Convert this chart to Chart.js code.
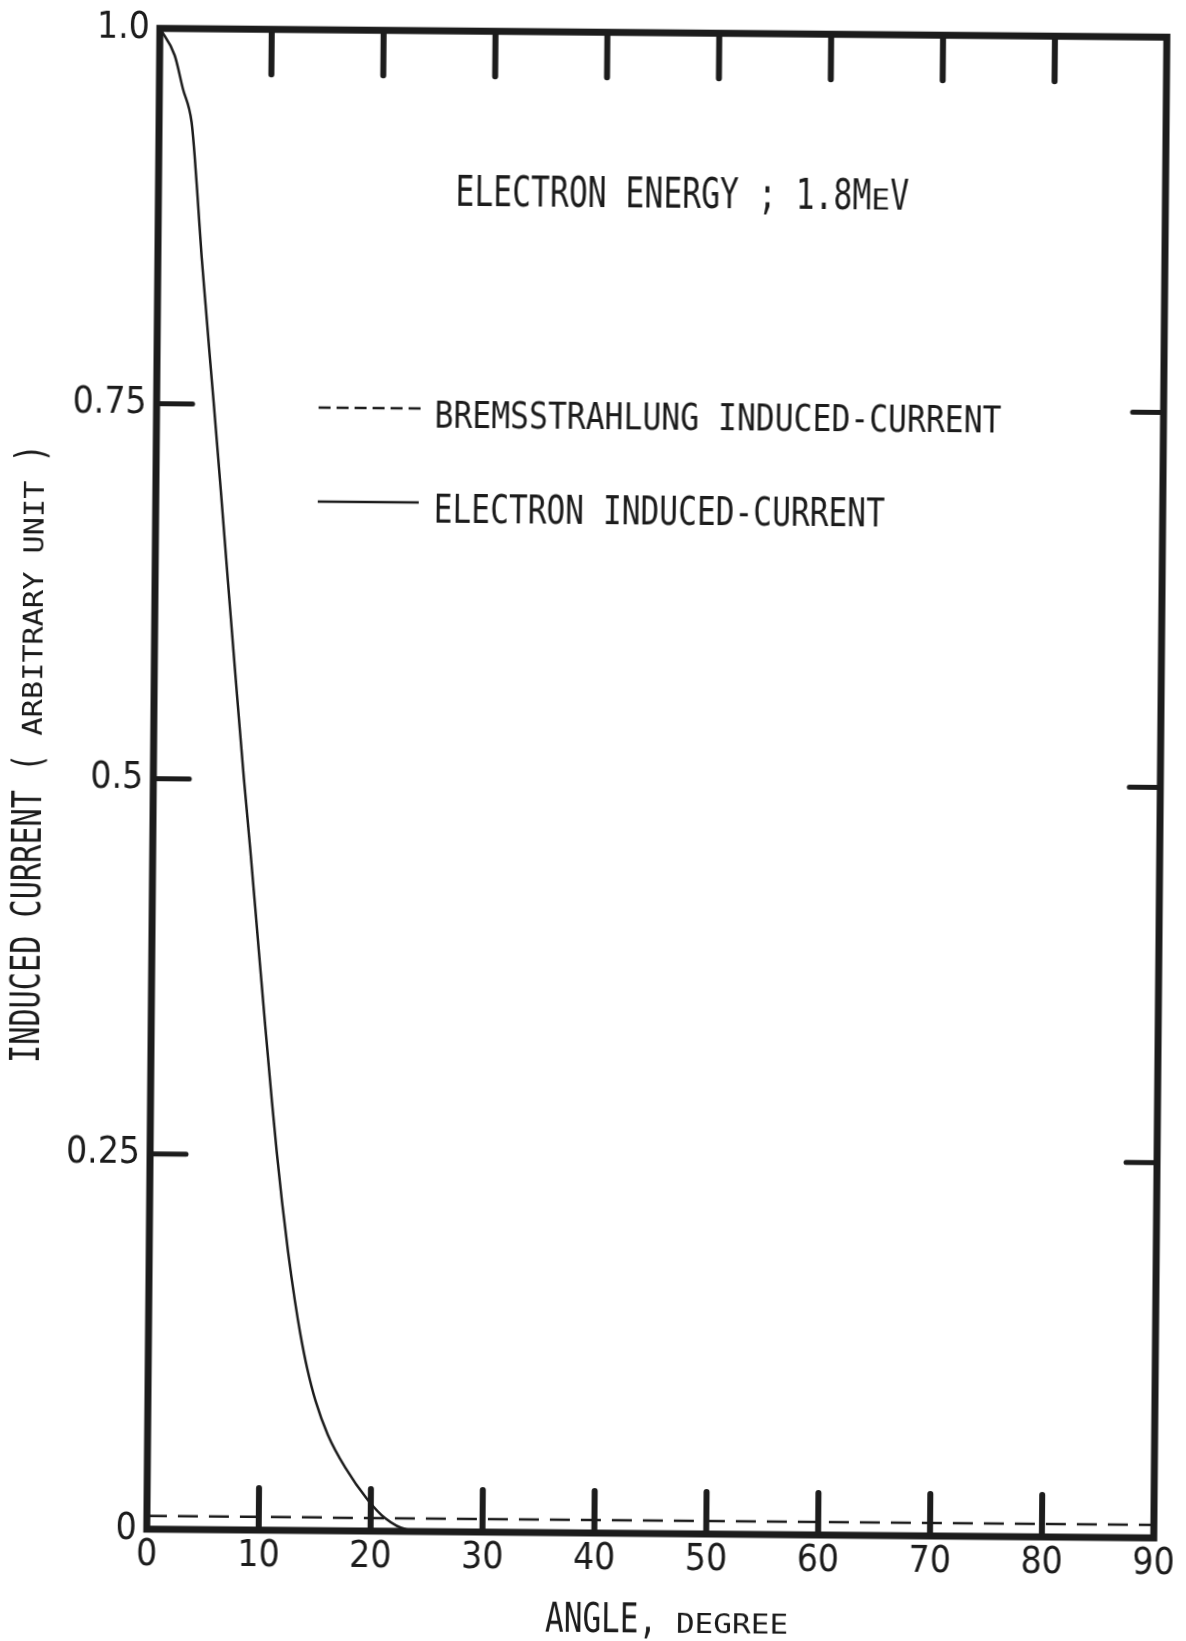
<!DOCTYPE html>
<html>
<head>
<meta charset="utf-8">
<title>Induced current vs angle</title>
<script src="https://cdn.jsdelivr.net/npm/chart.js@4.4.1/dist/chart.umd.min.js"></script>
<style>
  html, body { margin: 0; padding: 0; background: #fff; overflow: hidden; }
  /* the scanned figure sits about half a degree off square */
  #wrap { width: 1186px; height: 1641px; transform: rotate(0.5deg); transform-origin: 593px 820px; }
  canvas { display: block; }
</style>
</head>
<body>
<div id="wrap"><canvas id="chart" width="1186" height="1641"></canvas></div>
<script>
// axes
const angleTicks = [0, 10, 20, 30, 40, 50, 60, 70, 80, 90];
const currentTicks = [0, 0.25, 0.5, 0.75, 1.0];
const currentTickLabels = ["0", "0.25", "0.5", "0.75", "1.0"];

// electron induced-current (solid)
const electronAngle = [0, 1.35, 2.1, 2.9, 3.2, 3.55, 3.9, 4.3, 4.7, 5.1, 5.8, 6.5, 7.2, 8.1, 8.7,
  9.45, 10.19, 10.86, 11.32, 11.83, 12.4, 13.06, 13.57, 14.21, 15.0, 16.1, 17.7, 19.7, 21.3, 23.2, 26];
const electronCurrent = [1.0, 0.982, 0.960, 0.938, 0.916, 0.883, 0.849, 0.816, 0.783, 0.751, 0.693, 0.633, 0.574, 0.500, 0.455,
  0.395, 0.336, 0.285, 0.252, 0.219, 0.186, 0.153, 0.131, 0.108, 0.086, 0.064, 0.042, 0.021, 0.0086, 0.0013, 0];

// bremsstrahlung induced-current (dashed)
const bremsAngle = [0, 30, 60, 90];
const bremsCurrent = [0.0088, 0.0087, 0.0086, 0.0086];

const INK = "#1c1c1c";
const TXT_FONT = '"DejaVu Sans Mono", "Liberation Mono", monospace';

function fontExists(name) {
    let c = document.createElement("canvas").getContext("2d");
    let probe = "0.75 mmmWWiil 1234567890";
    return ["monospace", "serif"].some(fb => {
        c.font = "40px " + fb;
        let w1 = c.measureText(probe).width;
        c.font = '40px "' + name + '", ' + fb;
        return c.measureText(probe).width !== w1;
    });
}

// the scan uses a narrow typewriter face, pick the narrowest we have
let tickFont = { family: TXT_FONT, size: 36 };
if (fontExists("Liberation Sans Narrow")) tickFont = { family: '"Liberation Sans Narrow"', size: 40 };
else if (fontExists("DejaVu Sans Condensed")) tickFont = { family: '"DejaVu Sans Condensed"', size: 37 };

// draw a run of text segments on a fixed pitch, squeezing each segment to fit
function drawRun(ctx, segs, pitch) {
    let cx = 0;
    segs.forEach(s => {
        ctx.font = s[1] + "px " + TXT_FONT;
        let w = ctx.measureText(s[0]).width;
        let target = s[0].length * pitch;
        ctx.save();
        ctx.translate(cx, 0);
        ctx.scale(target / w, 1);
        ctx.fillText(s[0], 0, 0);
        ctx.restore();
        cx += target;
    });
}

const paperPlugin = {
    id: "paper",
    beforeDraw(chart) {
        let ctx = chart.ctx;
        ctx.save();
        ctx.fillStyle = "#fff";
        ctx.fillRect(0, 0, chart.width, chart.height);
        ctx.restore();
    },
    afterDatasetsDraw(chart) {
        let ctx = chart.ctx;
        let a = chart.chartArea;
        let xs = chart.scales.x;
        let ys = chart.scales.y;
        ctx.save();
        ctx.strokeStyle = INK;
        ctx.lineCap = "round";

        // inward tick marks on all four sides
        ctx.lineWidth = 6;
        angleTicks.slice(1, -1).forEach(v => {
            let px = xs.getPixelForValue(v);
            ctx.beginPath();
            ctx.moveTo(px, a.bottom);
            ctx.lineTo(px, a.bottom - 42);
            ctx.moveTo(px, a.top);
            ctx.lineTo(px, a.top + 45);
            ctx.stroke();
        });
        ctx.lineWidth = 5;
        currentTicks.slice(1, -1).forEach(v => {
            let py = ys.getPixelForValue(v);
            ctx.beginPath();
            ctx.moveTo(a.left, py);
            ctx.lineTo(a.left + 36, py);
            ctx.moveTo(a.right, py);
            ctx.lineTo(a.right - 31, py);
            ctx.stroke();
        });

        // heavy frame
        ctx.lineCap = "square";
        ctx.lineWidth = 7;
        ctx.strokeRect(a.left, a.top, a.right - a.left, a.bottom - a.top);
        ctx.restore();
    },
    afterDraw(chart) {
        let ctx = chart.ctx;
        ctx.save();
        ctx.fillStyle = INK;
        ctx.strokeStyle = INK;
        ctx.textBaseline = "alphabetic";

        // energy note
        ctx.save();
        ctx.translate(450, 207);
        drawRun(ctx, [["ELECTRON ENERGY ; 1.8M", 42], ["E", 28], ["V", 42]], 18.9);
        ctx.restore();

        // legend
        ctx.lineWidth = 2.5;
        ctx.setLineDash([12, 6]);
        ctx.beginPath();
        ctx.moveTo(315, 410);
        ctx.lineTo(419, 410);
        ctx.stroke();
        ctx.setLineDash([]);
        ctx.beginPath();
        ctx.moveTo(315, 504);
        ctx.lineTo(416, 504);
        ctx.stroke();

        ctx.save();
        ctx.translate(431, 429);
        drawRun(ctx, [["BREMSSTRAHLUNG INDUCED-CURRENT", 38]], 18.9);
        ctx.restore();
        ctx.save();
        ctx.translate(431, 524);
        drawRun(ctx, [["ELECTRON INDUCED-CURRENT", 39]], 18.8);
        ctx.restore();

        // x axis title
        ctx.save();
        ctx.translate(552, 1632);
        drawRun(ctx, [["ANGLE, ", 40], ["DEGREE", 26]], 18.7);
        ctx.restore();

        // y axis title, reads bottom to top
        ctx.save();
        ctx.translate(41, 1068);
        ctx.rotate(-Math.PI / 2);
        drawRun(ctx, [["INDUCED CURRENT ( ", 40], ["ARBITRARY UNIT", 26], [" )", 40]], 18.2);
        ctx.restore();

        ctx.restore();
    }
};

const PLOT_LEFT = 153, PLOT_RIGHT = 1160, PLOT_TOP = 27, PLOT_BOTTOM = 1533;
const X_AXIS_H = 60;

new Chart(document.getElementById("chart"), {
    type: "line",
    data: {
        datasets: [
            {
                label: "ELECTRON INDUCED-CURRENT",
                data: electronAngle.map((x, i) => ({ x: x, y: electronCurrent[i] })),
                borderColor: INK,
                borderWidth: 2.5,
                pointRadius: 0,
                cubicInterpolationMode: "monotone",
                fill: false
            },
            {
                label: "BREMSSTRAHLUNG INDUCED-CURRENT",
                data: bremsAngle.map((x, i) => ({ x: x, y: bremsCurrent[i] })),
                borderColor: INK,
                borderWidth: 2.5,
                borderDash: [20, 11],
                pointRadius: 0,
                fill: false
            }
        ]
    },
    options: {
        responsive: false,
        devicePixelRatio: 1,
        animation: false,
        layout: {
            padding: { left: 0, top: PLOT_TOP, right: 1186 - PLOT_RIGHT, bottom: 1641 - PLOT_BOTTOM - X_AXIS_H }
        },
        plugins: {
            legend: { display: false },
            title: { display: false },
            tooltip: { enabled: false }
        },
        scales: {
            x: {
                type: "linear",
                min: 0,
                max: 90,
                afterBuildTicks: axis => { axis.ticks = angleTicks.map(v => ({ value: v })); },
                afterFit: s => { s.height = X_AXIS_H; },
                grid: { display: false, drawTicks: false },
                border: { display: false },
                ticks: {
                    autoSkip: false,
                    maxRotation: 0,
                    padding: 4,
                    color: INK,
                    font: tickFont,
                    callback: v => String(v)
                }
            },
            y: {
                type: "linear",
                min: 0,
                max: 1,
                afterBuildTicks: axis => { axis.ticks = currentTicks.map(v => ({ value: v })); },
                afterFit: s => { s.width = PLOT_LEFT; },
                grid: { display: false, drawTicks: false },
                border: { display: false },
                ticks: {
                    autoSkip: false,
                    padding: 10,
                    color: INK,
                    font: tickFont,
                    callback: (v, i) => currentTickLabels[i]
                }
            }
        }
    },
    plugins: [paperPlugin]
});
</script>
</body>
</html>
